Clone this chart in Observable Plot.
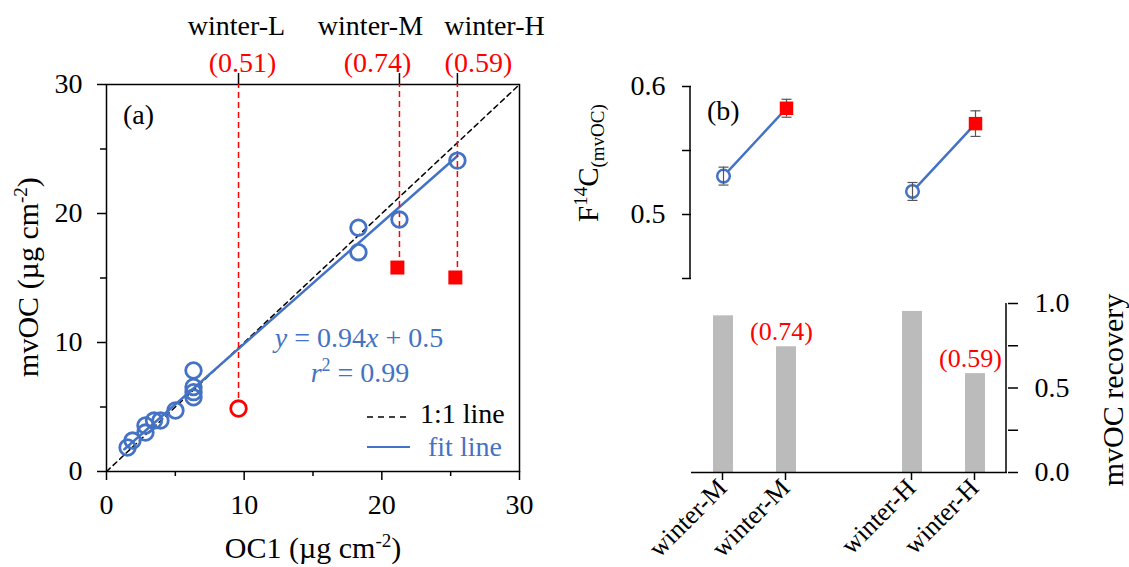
<!DOCTYPE html>
<html><head><meta charset="utf-8">
<script src="https://cdn.jsdelivr.net/npm/d3@7"></script>
<script src="https://cdn.jsdelivr.net/npm/@observablehq/plot@0.6"></script>
<style>
body{margin:0;background:#fff;}
#wrap{position:relative;width:1129px;height:567px;overflow:hidden;font-family:"Liberation Serif","Times New Roman",serif;}
#wrap svg{position:absolute;left:0;top:0;}
</style></head><body><div id="wrap"></div>
<script>
// ---------- DATA: panel (a) ----------
const blueOC1   = [1.53, 1.89, 2.83, 2.83, 3.45, 3.92, 5.01, 6.32, 6.32, 6.32, 6.32, 18.3, 18.3, 21.28, 25.49];
const blueMvOC  = [1.86, 2.40, 3.57, 3.02, 3.95, 3.95, 4.73, 7.83, 6.55, 6.15, 5.75, 18.9, 17.0, 19.53, 24.1];
const redCircleOC1  = [9.59];
const redCircleMvOC = [4.88];
const redSquareOC1  = [21.13, 25.34];
const redSquareMvOC = [15.81, 15.04];
const winterNames    = ["winter-L", "winter-M", "winter-H"];
const winterOC1      = [9.59, 21.28, 25.49];
const winterLowMvOC  = [4.88, 15.81, 15.04];
const winterRecovery = ["(0.51)", "(0.74)", "(0.59)"];
const fitSlope = 0.94, fitIntercept = 0.5;
const fitRange = [1.3, 25.49];
const oneToOne = [0, 30];
const xTicksA = [0, 10, 20, 30], xMinorA = [5, 15, 25];

// ---------- DATA: panel (b) ----------
const bKeys   = ["M-OC1", "M-mvOC", "gap", "H-OC1", "H-mvOC"];
const bLabels = ["winter-M", "winter-M", "", "winter-H", "winter-H"];
const f14cKeys   = ["M-OC1", "M-mvOC", "H-OC1", "H-mvOC"];
const f14cValues = [0.530, 0.583, 0.518, 0.571];
const f14cErrors = [0.007, 0.007, 0.007, 0.010];
const f14cType   = ["OC1", "mvOC", "OC1", "mvOC"];
const f14cGroup  = ["M", "M", "H", "H"];
const recoveryKeys   = ["M-OC1", "M-mvOC", "H-OC1", "H-mvOC"];
const recoveryValues = [0.927, 0.744, 0.953, 0.585];
const recoveryLabels = ["", "(0.74)", "", "(0.59)"];
const f14cTicks = [0.45, 0.5, 0.55, 0.6];
const recTicks = [0, 0.25, 0.5, 0.75, 1];

// ---------- build ----------
const W = 1129, H = 567;
const blue = "#4472C4", red = "#FF0000", FONT = "Liberation Serif, Times New Roman, serif";
const wrap = document.getElementById("wrap");
const baseStyle = {background: "transparent", fontFamily: FONT, fontSize: "28px", overflow: "visible", color: "black"};

const blues = blueOC1.map((x, i) => ({x, y: blueMvOC[i]}));
const redC = redCircleOC1.map((x, i) => ({x, y: redCircleMvOC[i]}));
const redS = redSquareOC1.map((x, i) => ({x, y: redSquareMvOC[i]}));
const winters = winterNames.map((n, i) => ({name: n, x: winterOC1[i], low: winterLowMvOC[i], rec: winterRecovery[i]}));

const A = {l: 106, r: 519, t: 84, b: 471};
const nameDx = [-2, -29, 37], recDx = [4, -22, 21];

const plotA = Plot.plot({
  width: W, height: H,
  marginLeft: A.l, marginRight: W - A.r, marginTop: A.t, marginBottom: H - A.b,
  style: baseStyle,
  x: {domain: [0, 30], label: null},
  y: {domain: [0, 30], label: null},
  marks: [
    Plot.axisX({ticks: xTicksA, tickSize: 9, tickPadding: 14, strokeWidth: 1.5, fontSize: 28, label: null}),
    Plot.axisX({ticks: xMinorA, tickSize: 5, tickFormat: () => "", strokeWidth: 1.5, label: null}),
    Plot.axisY({ticks: xTicksA, tickSize: 9, tickPadding: 15, strokeWidth: 1.5, fontSize: 28, label: null}),
    Plot.axisY({ticks: xMinorA, tickSize: 6, tickFormat: () => "", strokeWidth: 1.5, label: null}),
    Plot.frame({stroke: "black", strokeWidth: 1.5}),
    Plot.line(oneToOne, {x: d => d, y: d => d, stroke: "black", strokeWidth: 1.5, strokeDasharray: "5,4"}),
    Plot.line(fitRange, {x: d => d, y: d => fitSlope * d + fitIntercept, stroke: blue, strokeWidth: 2.5}),
    Plot.ruleX(winters, {x: "x", y1: "low", y2: 30, stroke: red, strokeWidth: 1.5, strokeDasharray: "6,4"}),
    Plot.ruleX(winters, {x: "x", y1: 30, y2: 30.85, stroke: "black", strokeWidth: 1.5}),
    Plot.dot(blues, {x: "x", y: "y", r: 7.8, stroke: blue, strokeWidth: 2.8, fill: "none"}),
    Plot.dot(redC, {x: "x", y: "y", r: 7.8, stroke: red, strokeWidth: 2.8, fill: "white"}),
    Plot.dot(redS, {x: "x", y: "y", r: 7.9, symbol: "square", fill: red}),
    ...winters.map((w, i) => Plot.text([w], {x: "x", frameAnchor: "top", text: "name", dy: -69, dx: nameDx[i], fontSize: 28, fill: "black"})),
    ...winters.map((w, i) => Plot.text([w], {x: "x", frameAnchor: "top", text: "rec", dy: -32, dx: recDx[i], fontSize: 28, fill: red}))
  ]
});
wrap.appendChild(plotA);

// panel (b) top
const f14c = f14cKeys.map((k, i) => ({key: k, v: f14cValues[i], e: f14cErrors[i], type: f14cType[i], group: f14cGroup[i]}));
const capSymbol = {draw(ctx, size) { const r = Math.sqrt(size / Math.PI); ctx.moveTo(-r, 0); ctx.lineTo(r, 0); }};
const B = {l: 691, r: 1007};
const plotB1 = Plot.plot({
  width: W, height: H,
  marginLeft: B.l, marginRight: W - B.r, marginTop: 86, marginBottom: H - 278,
  style: baseStyle,
  x: {type: "point", domain: bKeys, padding: 0.5, axis: null},
  y: {domain: [0.45, 0.6], label: null},
  marks: [
    Plot.axisY({ticks: f14cTicks, tickSize: 9, tickPadding: 17, strokeWidth: 1.5, fontSize: 28, label: null,
      tickFormat: d => (d === 0.5 || d === 0.6) ? d.toFixed(1) : ""}),
    Plot.line(f14c, {x: "key", y: "v", z: "group", stroke: blue, strokeWidth: 2.5}),
    Plot.dot(f14c.filter(d => d.type === "OC1"), {x: "key", y: "v", r: 6.3, stroke: blue, strokeWidth: 2.5, fill: "white"}),
    Plot.ruleX(f14c, {x: "key", y1: d => d.v - d.e, y2: d => d.v + d.e, stroke: "#555", strokeWidth: 1.2}),
    Plot.dot(f14c, {x: "key", y: d => d.v - d.e, r: 5, symbol: capSymbol, stroke: "#555", strokeWidth: 1.2, fill: "none"}),
    Plot.dot(f14c, {x: "key", y: d => d.v + d.e, r: 5, symbol: capSymbol, stroke: "#555", strokeWidth: 1.2, fill: "none"}),
    Plot.dot(f14c.filter(d => d.type === "mvOC"), {x: "key", y: "v", r: 7.6, symbol: "square", fill: red})
  ]
});
wrap.appendChild(plotB1);

// panel (b) bottom
const rec = recoveryKeys.map((k, i) => ({key: k, v: recoveryValues[i], label: recoveryLabels[i]}));
const labelOf = Object.fromEntries(bKeys.map((k, i) => [k, bLabels[i]]));
const plotB2 = Plot.plot({
  width: W, height: H,
  marginLeft: B.l, marginRight: W - B.r, marginTop: 303, marginBottom: H - 472,
  style: baseStyle,
  x: {type: "band", domain: bKeys, paddingInner: 0.68, paddingOuter: 0.34, label: null},
  y: {domain: [0, 1], label: null},
  marks: [
    Plot.barY(rec, {x: "key", y: "v", fill: "#BBBBBB"}),
    Plot.ruleY([0], {stroke: "black", strokeWidth: 1.5}),
    Plot.axisX({ticks: recoveryKeys, tickFormat: k => labelOf[k], tickRotate: -45, tickSize: 8, tickPadding: 3, dx: -1, strokeWidth: 1.5, fontSize: 26, label: null}),
    Plot.axisY({anchor: "right", ticks: recTicks, tickSize: 10, tickPadding: 17, strokeWidth: 1.5, fontSize: 28, label: null,
      tickFormat: d => (d === 0 || d === 0.5 || d === 1) ? d.toFixed(1) : ""}),
    Plot.text(rec.filter(d => d.label), {x: "key", y: "v", text: "label", fill: red, fontSize: 26, dy: -15, dx: -5})
  ]
});
wrap.appendChild(plotB2);

// ---------- overlay: axis lines, rich text, legend ----------
const ov = d3.select(wrap).append("svg").attr("width", W).attr("height", H)
  .style("position", "absolute").style("left", 0).style("top", 0).style("font-family", FONT);
// axis spines for panel b
ov.append("line").attr("x1", B.l - 1).attr("x2", B.l - 1).attr("y1", 86).attr("y2", 278).attr("stroke", "black").attr("stroke-width", 1.5);
ov.append("line").attr("x1", B.r - 1).attr("x2", B.r - 1).attr("y1", 303).attr("y2", 472).attr("stroke", "black").attr("stroke-width", 1.5);

function rich(x, y, parts, {rotate = 0, anchor = "start", fill = "black", size = 28} = {}) {
  const t = ov.append("text").attr("transform", `translate(${x},${y}) rotate(${rotate})`)
    .attr("text-anchor", anchor).attr("fill", fill).style("font-size", size + "px");
  let shift = 0;
  parts.forEach(p => {
    const o = typeof p === "string" ? {t: p} : p;
    const target = o.sup ? -11 : o.sub ? 6 : 0;
    const ts = t.append("tspan").text(o.t).attr("dy", target - shift);
    shift = target;
    if (o.sup || o.sub) ts.style("font-size", (o.fs || 19) + "px");
    if (o.i) ts.style("font-style", "italic");
  });
  return t;
}
rich(313, 558, ["OC1 (µg cm", {t: "-2", sup: true}, ")"], {anchor: "middle", size: 30});
rich(38, 277, ["mvOC (µg cm", {t: "-2", sup: true}, ")"], {anchor: "middle", rotate: -90, size: 30});
rich(598, 222, ["F", {t: "14", sup: true, fs: 19}, "C", {t: "(mvOC)", sub: true, fs: 19}], {rotate: -90, size: 29});
rich(1123, 390, ["mvOC recovery"], {anchor: "middle", rotate: -90, size: 30});
rich(123, 124, ["(a)"]);
rich(707, 120, ["(b)"]);
rich(359, 347, [{t: "y", i: true}, " = 0.94", {t: "x", i: true}, " + 0.5"], {anchor: "middle", fill: blue});
rich(360, 382, [{t: "r", i: true}, {t: "2", sup: true, fs: 18}, " = 0.99"], {anchor: "middle", fill: blue});
// legend
ov.append("line").attr("x1", 367).attr("x2", 409).attr("y1", 417).attr("y2", 417).attr("stroke", "black").attr("stroke-width", 1.5).attr("stroke-dasharray", "6,5");
rich(420, 423, ["1:1 line"]);
ov.append("line").attr("x1", 367).attr("x2", 410).attr("y1", 447).attr("y2", 447).attr("stroke", blue).attr("stroke-width", 2);
rich(428, 456, ["fit line"], {fill: blue});
</script></body></html>
